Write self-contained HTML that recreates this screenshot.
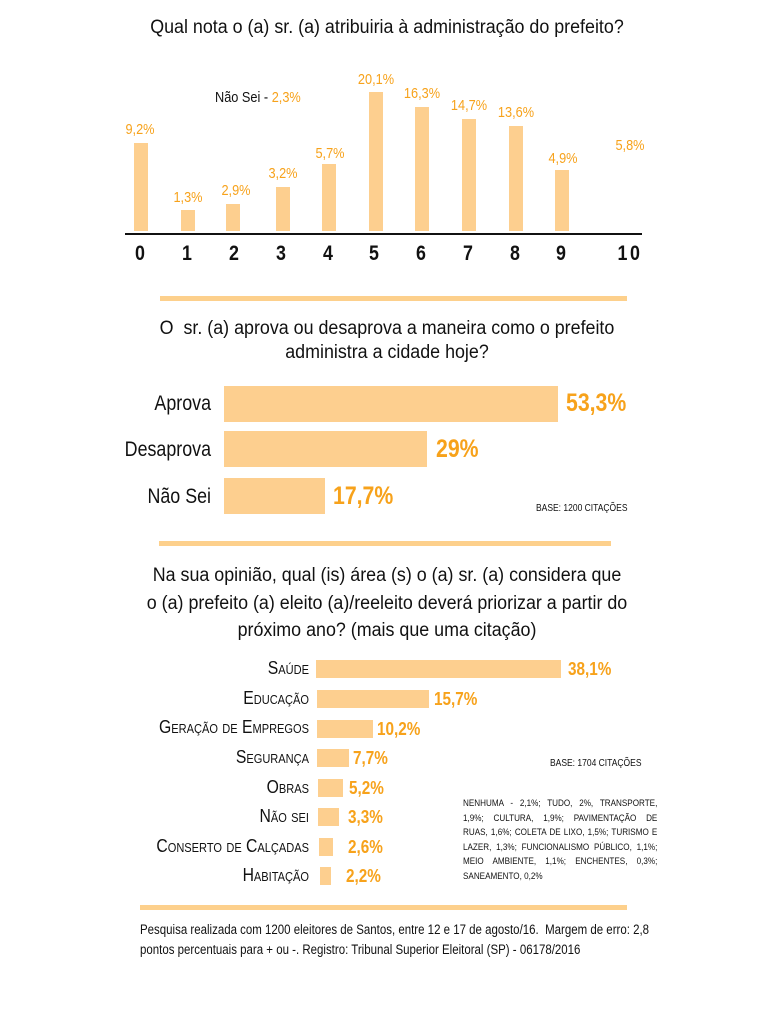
<!DOCTYPE html>
<html><head><meta charset="utf-8"><style>
body{margin:0;width:774px;height:1024px;background:#fff;position:relative;overflow:hidden;font-family:"Liberation Sans",Arial,sans-serif;color:#111}
.a{position:absolute;white-space:nowrap;line-height:1}
.b{position:absolute;background:#fdcf8f}
.o{color:#f7a21b}
.l{transform:scaleX(.85);transform-origin:left center}
.r{transform:scaleX(.85);transform-origin:right center;text-align:right}
.c{transform:scaleX(.85);transform-origin:center center;text-align:center}
.t{transform:scaleX(.94);transform-origin:center center;text-align:center}
.sep{position:absolute;height:5px;background:#fdd08c}
.sc{font-variant:small-caps}
.fn div{text-align:justify;text-align-last:justify;height:14.5px;white-space:nowrap}
</style></head><body>
<div class="a t" style="left:0;width:774px;top:18px;font-size:19px">Qual nota o (a) sr. (a) atribuiria à administração do prefeito?</div>
<div class="a l" style="left:215px;top:90px;font-size:15px">Não Sei - <span class="o">2,3%</span></div>
<div class="b" style="left:134px;top:143px;width:14px;height:88px"></div>
<div class="b" style="left:181px;top:210px;width:14px;height:21px"></div>
<div class="b" style="left:226px;top:204px;width:14px;height:27px"></div>
<div class="b" style="left:276px;top:187px;width:14px;height:44px"></div>
<div class="b" style="left:322px;top:164px;width:14px;height:67px"></div>
<div class="b" style="left:369px;top:92px;width:14px;height:139px"></div>
<div class="b" style="left:415px;top:107px;width:14px;height:124px"></div>
<div class="b" style="left:462px;top:119px;width:14px;height:112px"></div>
<div class="b" style="left:509px;top:126px;width:14px;height:105px"></div>
<div class="b" style="left:555px;top:170px;width:14px;height:61px"></div>
<div class="a c o" style="left:115px;width:50px;top:122px;font-size:15px">9,2%</div>
<div class="a c o" style="left:163px;width:50px;top:190px;font-size:15px">1,3%</div>
<div class="a c o" style="left:211px;width:50px;top:183px;font-size:15px">2,9%</div>
<div class="a c o" style="left:258px;width:50px;top:166px;font-size:15px">3,2%</div>
<div class="a c o" style="left:305px;width:50px;top:146px;font-size:15px">5,7%</div>
<div class="a c o" style="left:351px;width:50px;top:72px;font-size:15px">20,1%</div>
<div class="a c o" style="left:397px;width:50px;top:86px;font-size:15px">16,3%</div>
<div class="a c o" style="left:444px;width:50px;top:98px;font-size:15px">14,7%</div>
<div class="a c o" style="left:491px;width:50px;top:105px;font-size:15px">13,6%</div>
<div class="a c o" style="left:538px;width:50px;top:151px;font-size:15px">4,9%</div>
<div class="a c o" style="left:605px;width:50px;top:138px;font-size:15px">5,8%</div>
<div style="position:absolute;left:125px;top:233px;width:517px;height:2px;background:#111"></div>
<div class="a" style="left:0;top:243px;width:774px;font-size:21px;font-weight:bold;color:#111">
<span class="a c" style="left:120px;width:40px">0</span>
<span class="a c" style="left:167px;width:40px">1</span>
<span class="a c" style="left:214px;width:40px">2</span>
<span class="a c" style="left:261px;width:40px">3</span>
<span class="a c" style="left:308px;width:40px">4</span>
<span class="a c" style="left:354px;width:40px">5</span>
<span class="a c" style="left:401px;width:40px">6</span>
<span class="a c" style="left:448px;width:40px">7</span>
<span class="a c" style="left:495px;width:40px">8</span>
<span class="a c" style="left:541px;width:40px">9</span>
<span class="a c" style="left:605px;width:50px;letter-spacing:3px">10</span>
</div>
<div class="sep" style="left:160px;top:296px;width:467px"></div>
<div class="a t" style="left:0;width:774px;top:319px;font-size:19px">O&nbsp; sr. (a) aprova ou desaprova a maneira como o prefeito</div>
<div class="a t" style="left:0;width:774px;top:343px;font-size:19px">administra a cidade hoje?</div>
<div class="b" style="left:224px;top:386px;width:334px;height:36px"></div>
<div class="b" style="left:224px;top:431px;width:203px;height:36px"></div>
<div class="b" style="left:224px;top:478px;width:101px;height:36px"></div>
<div class="a r" style="left:100px;width:111px;top:393px;font-size:21px">Aprova</div>
<div class="a r" style="left:100px;width:111px;top:439px;font-size:21px">Desaprova</div>
<div class="a r" style="left:100px;width:111px;top:486px;font-size:21px">Não Sei</div>
<div class="a l o" style="left:566px;top:391px;font-size:25px;font-weight:bold">53,3%</div>
<div class="a l o" style="left:436px;top:437px;font-size:25px;font-weight:bold">29%</div>
<div class="a l o" style="left:333px;top:484px;font-size:25px;font-weight:bold">17,7%</div>
<div class="a l" style="left:536px;top:504px;font-size:10px">BASE: 1200 CITAÇÕES</div>
<div class="sep" style="left:159px;top:541px;width:452px"></div>
<div class="a t" style="left:0;width:774px;top:566px;font-size:19px">Na sua opinião, qual (is) área (s) o (a) sr. (a) considera que</div>
<div class="a t" style="left:0;width:774px;top:594px;font-size:19px">o (a) prefeito (a) eleito (a)/reeleito deverá priorizar a partir do</div>
<div class="a t" style="left:0;width:774px;top:621px;font-size:19px">próximo ano? (mais que uma citação)</div>
<div class="b" style="left:316px;top:660px;width:245px;height:18px"></div>
<div class="b" style="left:317px;top:690px;width:112px;height:18px"></div>
<div class="b" style="left:317px;top:720px;width:56px;height:18px"></div>
<div class="b" style="left:317px;top:749px;width:32px;height:18px"></div>
<div class="b" style="left:318px;top:779px;width:25px;height:18px"></div>
<div class="b" style="left:318px;top:808px;width:21px;height:18px"></div>
<div class="b" style="left:319px;top:838px;width:14px;height:18px"></div>
<div class="b" style="left:320px;top:867px;width:11px;height:18px"></div>
<div class="a r sc" style="left:60px;width:249px;top:659px;font-size:18.5px">Saúde</div>
<div class="a r sc" style="left:60px;width:249px;top:689px;font-size:18.5px">Educação</div>
<div class="a r sc" style="left:60px;width:249px;top:718px;font-size:18.5px">Geração de Empregos</div>
<div class="a r sc" style="left:60px;width:249px;top:748px;font-size:18.5px">Segurança</div>
<div class="a r sc" style="left:60px;width:249px;top:778px;font-size:18.5px">Obras</div>
<div class="a r sc" style="left:60px;width:249px;top:807px;font-size:18.5px">Não sei</div>
<div class="a r sc" style="left:60px;width:249px;top:837px;font-size:18.5px">Conserto de Calçadas</div>
<div class="a r sc" style="left:60px;width:249px;top:866px;font-size:18.5px">Habitação</div>
<div class="a l o" style="left:568px;top:660px;font-size:18px;font-weight:bold">38,1%</div>
<div class="a l o" style="left:434px;top:690px;font-size:18px;font-weight:bold">15,7%</div>
<div class="a l o" style="left:377px;top:720px;font-size:18px;font-weight:bold">10,2%</div>
<div class="a l o" style="left:353px;top:749px;font-size:18px;font-weight:bold">7,7%</div>
<div class="a l o" style="left:349px;top:779px;font-size:18px;font-weight:bold">5,2%</div>
<div class="a l o" style="left:348px;top:808px;font-size:18px;font-weight:bold">3,3%</div>
<div class="a l o" style="left:348px;top:838px;font-size:18px;font-weight:bold">2,6%</div>
<div class="a l o" style="left:346px;top:867px;font-size:18px;font-weight:bold">2,2%</div>
<div class="a l" style="left:550px;top:759px;font-size:10px">BASE: 1704 CITAÇÕES</div>
<div class="a fn" style="left:463px;top:797px;font-size:9.6px;line-height:14.5px;width:230px;transform:scaleX(.845);transform-origin:left top">
<div>NENHUMA - 2,1%; TUDO, 2%, TRANSPORTE,</div>
<div>1,9%; CULTURA, 1,9%; PAVIMENTAÇÃO DE</div>
<div>RUAS, 1,6%; COLETA DE LIXO, 1,5%; TURISMO E</div>
<div>LAZER, 1,3%; FUNCIONALISMO PÚBLICO, 1,1%;</div>
<div>MEIO AMBIENTE, 1,1%; ENCHENTES, 0,3%;</div>
<div style="text-align-last:left">SANEAMENTO, 0,2%</div>
</div>
<div class="sep" style="left:140px;top:905px;width:487px"></div>
<div class="a l" style="left:140px;top:923px;font-size:13.5px">Pesquisa realizada com 1200 eleitores de Santos, entre 12 e 17 de agosto/16.&nbsp; Margem de erro: 2,8</div>
<div class="a l" style="left:140px;top:943px;font-size:13.5px">pontos percentuais para + ou -. Registro: Tribunal Superior Eleitoral (SP) - 06178/2016</div>
</body></html>
